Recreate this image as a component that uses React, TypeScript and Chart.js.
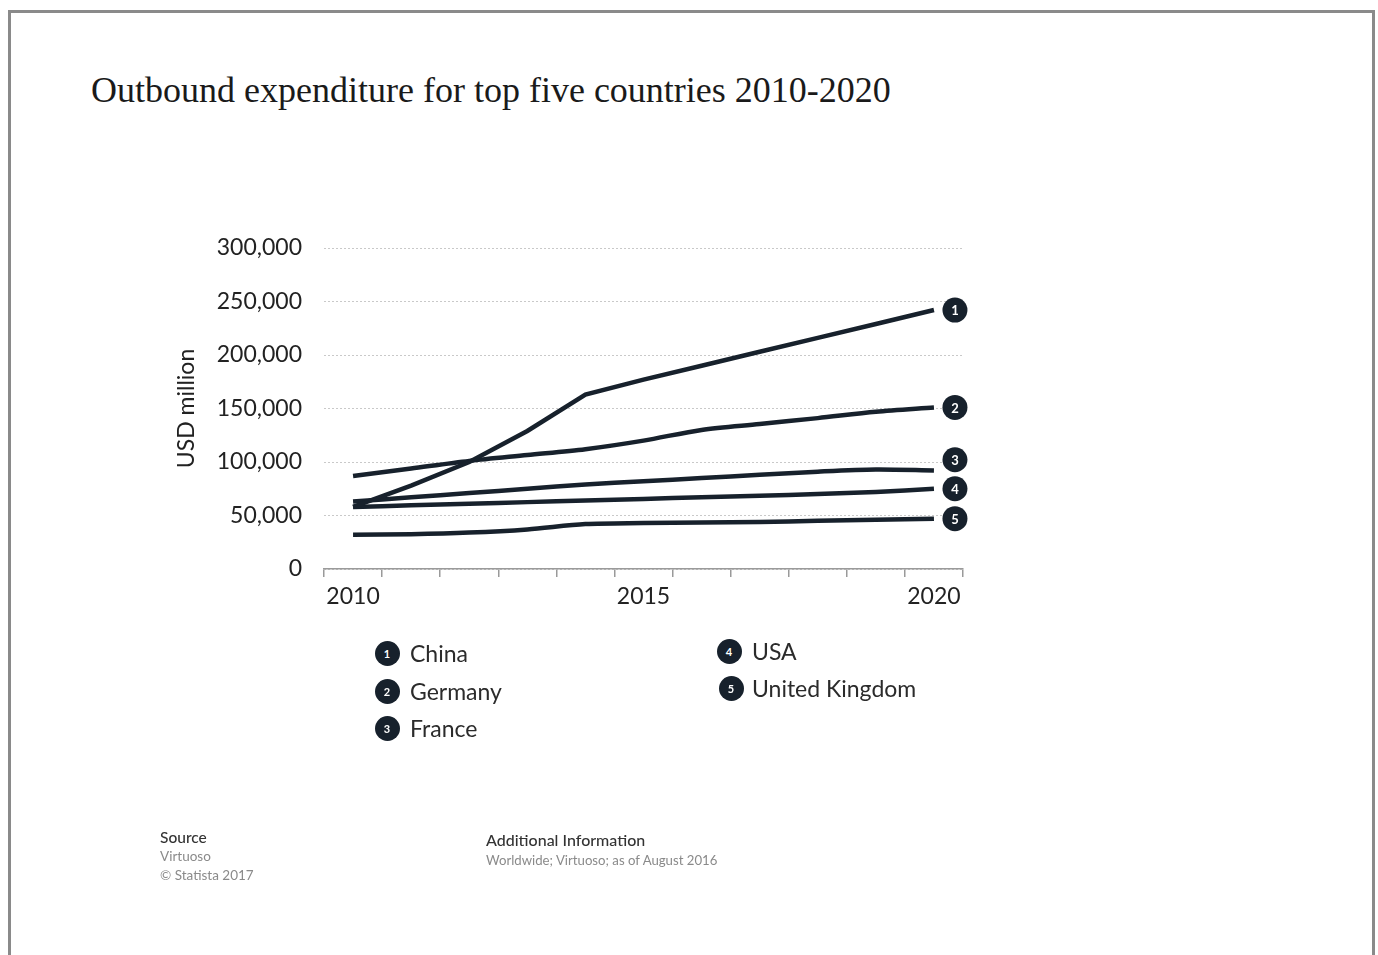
import React, { useEffect, useRef } from "react";
import { Chart, registerables } from "chart.js";

Chart.register(...registerables);

const years = ["2010", "2011", "2012", "2013", "2014", "2015", "2016", "2017", "2018", "2019", "2020"];
const shownYears = ["2010", "2015", "2020"];
const countries = ["China", "Germany", "France", "USA", "United Kingdom"];

const china = [58000, 78000, 100000, 129000, 163000, 177000, 190000, 203000, 216000, 229000, 242000];
const germany = [87000, 94000, 101000, 106500, 112000, 120000, 130000, 135500, 141000, 147000, 151000];
const france = [63000, 67000, 71000, 75000, 79000, 82000, 85000, 88000, 91000, 93000, 92000];
const usa = [58000, 59500, 61000, 62500, 64000, 65500, 67000, 68500, 70000, 72000, 75000];
const uk = [32000, 32500, 34000, 37000, 42000, 43000, 43500, 44000, 45000, 46000, 47000];

const seriesValues = [china, germany, france, usa, uk];
const seriesTension = [0, 0.3, 0.3, 0.3, 0.3];
const yTicks = [0, 50000, 100000, 150000, 200000, 250000, 300000];

const INK = "#17212c";

const endLabels = {
  id: "endLabels",
  afterDatasetsDraw(chart: any) {
    const ctx = chart.ctx;
    const items: { y: number; x: number; n: number }[] = [];
    chart.data.datasets.forEach((_: any, i: number) => {
      const meta = chart.getDatasetMeta(i);
      const pt = meta.data[meta.data.length - 1];
      items.push({ x: pt.x + 21, y: pt.y, n: i + 1 });
    });
    const sorted = [...items].sort((a, b) => b.y - a.y);
    for (let k = 1; k < sorted.length; k++) {
      if (sorted[k - 1].y - sorted[k].y < 29) sorted[k].y = sorted[k - 1].y - 29;
    }
    ctx.save();
    items.forEach((it) => {
      ctx.beginPath();
      ctx.arc(it.x, it.y, 12.5, 0, Math.PI * 2);
      ctx.fillStyle = INK;
      ctx.fill();
      ctx.fillStyle = "#ffffff";
      ctx.font = "bold 13px Lato";
      ctx.textAlign = "center";
      ctx.textBaseline = "middle";
      ctx.fillText(String(it.n), it.x, it.y + 1);
    });
    ctx.restore();
  },
};

function LegendItem({ n, label, x, y, tx }: { n: number; label: string; x: number; y: number; tx: number }) {
  return (
    <>
      <div
        style={{
          position: "absolute",
          left: x - 12.5,
          top: y - 12.5,
          width: 25,
          height: 25,
          borderRadius: "50%",
          background: INK,
          color: "#fff",
          fontFamily: "Lato",
          fontWeight: 700,
          fontSize: 11,
          display: "flex",
          alignItems: "center",
          justifyContent: "center",
        }}
      >
        {n}
      </div>
      <div
        style={{
          position: "absolute",
          left: tx,
          top: y - 15,
          height: 30,
          lineHeight: "30px",
          fontFamily: "Lato",
          fontSize: 23,
          color: "#2b2b2b",
          whiteSpace: "nowrap",
        }}
      >
        {label}
      </div>
    </>
  );
}

export default function App() {
  const ref = useRef<HTMLCanvasElement>(null);

  useEffect(() => {
    if (!ref.current) return;
    const chart = new Chart(ref.current, {
      type: "line",
      data: {
        labels: years,
        datasets: countries.map((c, i) => ({
          label: c,
          data: seriesValues[i],
          borderColor: INK,
          backgroundColor: INK,
          borderWidth: 4.5,
          pointRadius: 0,
          tension: seriesTension[i],
          fill: false,
        })),
      },
      options: {
        responsive: false,
        animation: false,
        events: [],
        layout: { padding: { left: 160, top: 248, right: 415, bottom: 336 } },
        plugins: { legend: { display: false }, tooltip: { enabled: false }, title: { display: false } },
        scales: {
          x: {
            type: "category",
            offset: true,
            afterFit: (s: any) => {
              s.height = 50;
            },
            grid: { drawOnChartArea: false, drawTicks: true, tickLength: 8, color: "#9a9a9a", lineWidth: 1.5, offset: true },
            border: { display: true, color: "#9a9a9a", width: 1.5 },
            ticks: {
              autoSkip: false,
              maxRotation: 0,
              padding: 6,
              color: "#222",
              font: { family: "Lato", size: 23 },
              callback: (v: any, i: number) => (shownYears.includes(years[i]) ? years[i] : ""),
            },
          },
          y: {
            min: 0,
            max: 300000,
            afterFit: (s: any) => {
              s.width = 164;
            },
            afterBuildTicks: (s: any) => {
              s.ticks = yTicks.map((v) => ({ value: v }));
            },
            grid: { drawTicks: false, color: "#c9c9c9", lineWidth: 1 },
            border: { display: false, dash: [2, 2] },
            ticks: {
              padding: 22,
              color: "#222",
              font: { family: "Lato", size: 23 },
              callback: (v: any) => Number(v).toLocaleString("en-US"),
            },
            title: {
              display: true,
              text: "USD million",
              color: "#222",
              font: { family: "Lato", size: 23 },
              padding: { top: 13, bottom: 0 },
            },
          },
        },
      },
      plugins: [endLabels],
    });
    return () => chart.destroy();
  }, []);

  return (
    <div style={{ position: "fixed", left: 0, top: 0, width: 1378, height: 955, overflow: "hidden", background: "#fff" }}>
      <div
        style={{
          position: "absolute",
          left: 8,
          top: 10,
          width: 1361,
          height: 1000,
          border: "3px solid #8a8a8a",
        }}
      />
      <div
        style={{
          position: "absolute",
          left: 91,
          top: 70,
          fontFamily: "Liberation Serif",
          fontSize: 36,
          color: "#1a1a1a",
          whiteSpace: "nowrap",
          lineHeight: "40px",
        }}
      >
        Outbound expenditure for top five countries 2010-2020
      </div>
      <canvas ref={ref} width={1378} height={955} style={{ position: "absolute", left: 0, top: 0 }} />
      <LegendItem n={1} label="China" x={387} y={653} tx={410} />
      <LegendItem n={2} label="Germany" x={387} y={691} tx={410} />
      <LegendItem n={3} label="France" x={387} y={728} tx={410} />
      <LegendItem n={4} label="USA" x={729} y={651} tx={752} />
      <LegendItem n={5} label="United Kingdom" x={731} y={688} tx={752} />
      <div style={{ position: "absolute", left: 160, top: 828, fontFamily: "Lato", color: "#333" }}>
        <div style={{ fontSize: 15.5, lineHeight: "19px", fontWeight: 500 }}>Source</div>
        <div style={{ fontSize: 13.5, lineHeight: "19px", color: "#8a8a8a" }}>Virtuoso</div>
        <div style={{ fontSize: 13.5, lineHeight: "18px", color: "#8a8a8a" }}>© Statista 2017</div>
      </div>
      <div style={{ position: "absolute", left: 486, top: 829, fontFamily: "Lato", color: "#333" }}>
        <div style={{ fontSize: 16, lineHeight: "21px", fontWeight: 500 }}>Additional Information</div>
        <div style={{ fontSize: 13.2, lineHeight: "21px", color: "#8a8a8a" }}>Worldwide; Virtuoso; as of August 2016</div>
      </div>
    </div>
  );
}
